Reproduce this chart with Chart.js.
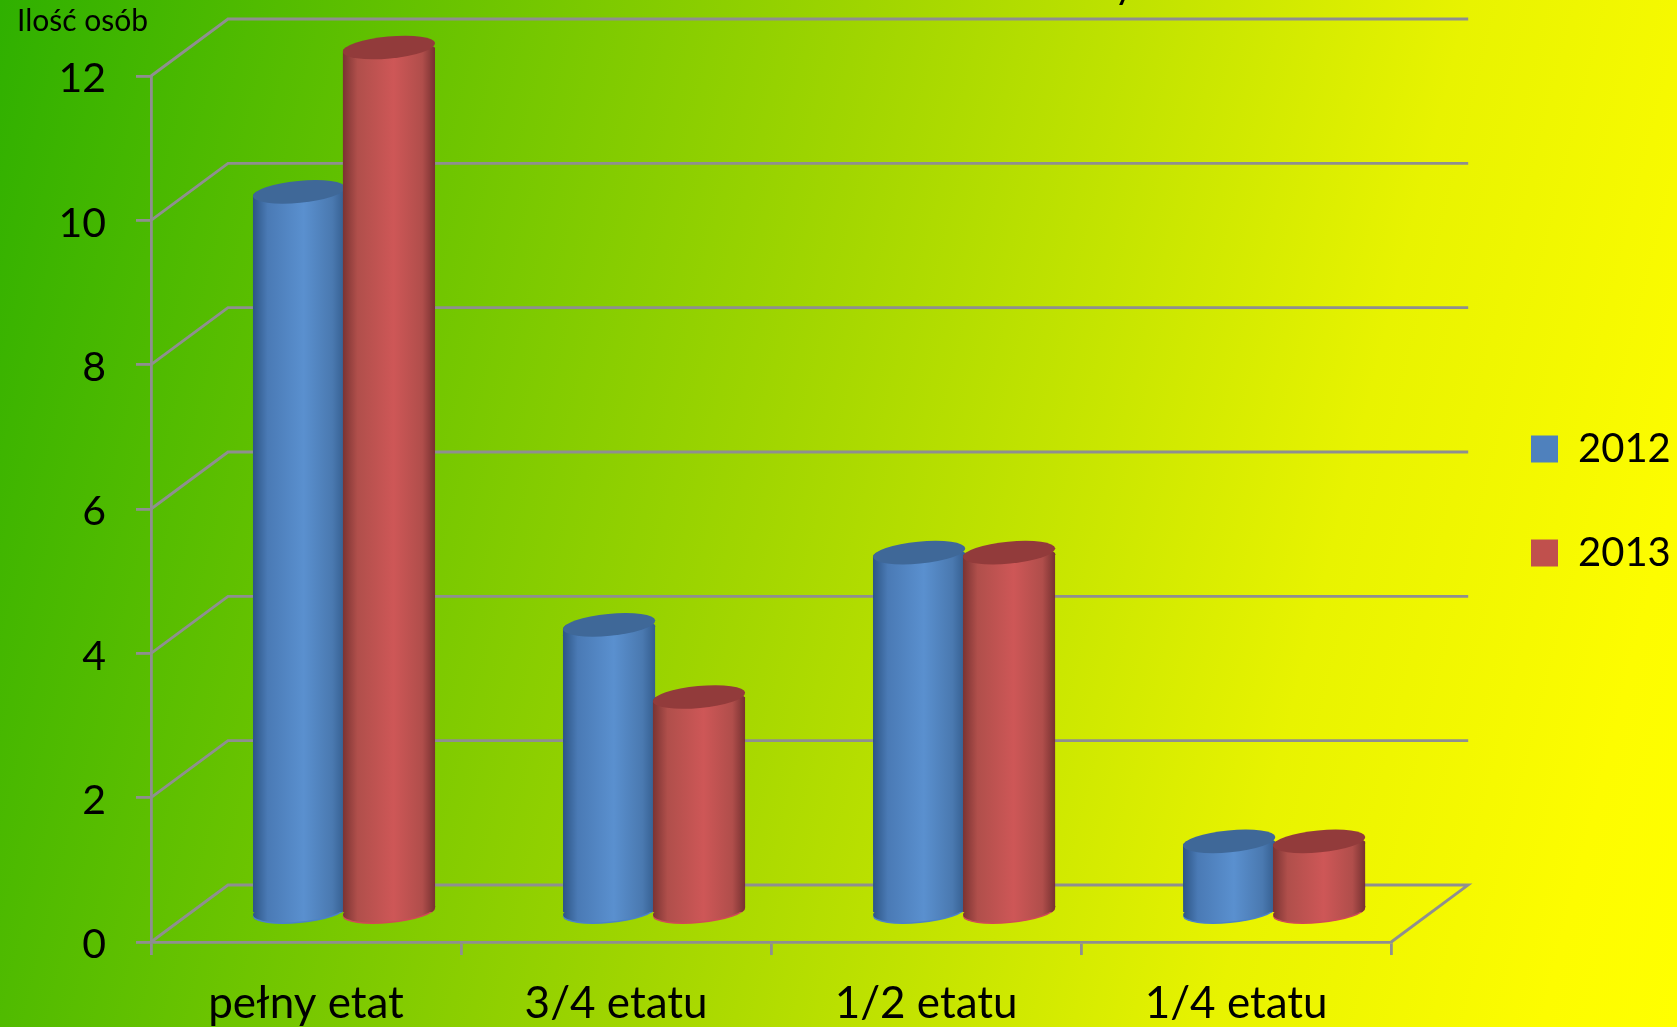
<!DOCTYPE html>
<html lang="pl">
<head>
<meta charset="utf-8">
<title>Ilość osób</title>
<style>
html, body { margin: 0; padding: 0; overflow: hidden; }
body { width: 1677px; height: 1027px; background: linear-gradient(104deg, #2fb000 0%, #a2d600 46%, #e8f300 76%, #fdfc00 93%, #ffff00 100%); }
canvas { display: block; }
</style>
<script src="https://cdn.jsdelivr.net/npm/chart.js@4/dist/chart.umd.min.js"></script>
</head>
<body>
<canvas id="graphs" width="1677" height="1027"></canvas>
<script>
const categories = ['pełny etat', '3/4 etatu', '1/2 etatu', '1/4 etatu'];
const years = ['2012', '2013'];
const values2012 = [10, 4, 5, 1];
const values2013 = [12, 3, 5, 1];
const yTicks = [0, 2, 4, 6, 8, 10, 12];

const legendColors = ['#4f81bd', '#c0504d'];
const bodyStops = [
    ['#2d5585', '#4a7ab5', '#5a90cf', '#4a79b0', '#345d8e'],
    ['#7a3332', '#b04f4b', '#ce5757', '#b04e4b', '#763130']
];
const topColors = ['#3f6898', '#923b3b'];
const bottomColors = ['#4a82c8', '#d04a55'];

const fontName = 'Lato, "Open Sans", sans-serif';
const gridColor = '#8f8f8f';
const depthX = 77, depthY = -57;   // back wall offset
const barShiftX = 38, barShiftY = -28.5;   // bars stand in the middle of the floor
const capRy = 11, capTilt = -0.095;

function barGradient(ctx, left, right, datasetIndex) {
    const g = ctx.createLinearGradient(left, 0, right, 0);
    const stops = bodyStops[datasetIndex];
    g.addColorStop(0, stops[0]);
    g.addColorStop(0.16, stops[1]);
    g.addColorStop(0.55, stops[2]);
    g.addColorStop(0.86, stops[3]);
    g.addColorStop(1, stops[4]);
    return g;
}

function cap(ctx, el, y, fill) {
    ctx.beginPath();
    ctx.ellipse(el.x, y, el.width / 2, capRy, capTilt, 0, Math.PI * 2);
    ctx.fillStyle = fill;
    ctx.fill();
}

// walls and floor lines behind the bars
const walls = {
    id: 'walls',
    beforeDatasetsDraw(chart) {
        const { ctx, chartArea, scales } = chart;
        ctx.save();
        ctx.strokeStyle = gridColor;
        ctx.lineWidth = 2.8;
        yTicks.forEach(t => {
            const y = scales.y.getPixelForValue(t);
            ctx.beginPath();
            ctx.moveTo(chartArea.left, y);
            ctx.lineTo(chartArea.left + depthX, y + depthY);
            ctx.lineTo(chartArea.right + depthX, y + depthY);
            if (t === 0) ctx.lineTo(chartArea.right, y);
            ctx.stroke();
        });
        // what is left of the cut off heading
        ctx.fillStyle = '#000';
        ctx.font = '40px ' + fontName;
        ctx.textBaseline = 'alphabetic';
        ctx.fillText('y', 1114, -2);
        ctx.restore();
    }
};

// turns the flat bars into cylinders, 2013 has to lie over 2012
const cylinders = {
    id: 'cylinders',
    beforeDatasetsDraw(chart) {
        const ctx = chart.ctx;
        ctx.save();
        ctx.translate(barShiftX, barShiftY);
        years.forEach((year, i) => {
            const meta = chart.getDatasetMeta(i);
            meta.data.forEach(el => {
                const left = el.x - el.width / 2;
                const body = barGradient(ctx, left, left + el.width, i);
                cap(ctx, el, el.base, bottomColors[i]);
                cap(ctx, el, el.base - 1.5, body);
                cap(ctx, el, el.y + 6, body);
            });
            ctx.save();
            ctx.beginPath();
            meta.data.forEach(el => {
                const r = el.width / 2;
                const dy = Math.sin(-capTilt) * r;
                ctx.moveTo(el.x - r, el.y + dy);
                ctx.ellipse(el.x, el.y, r, capRy, capTilt, Math.PI, Math.PI * 2);
                ctx.lineTo(el.x + r, el.base - dy);
                ctx.ellipse(el.x, el.base, r, capRy, capTilt, 0, Math.PI);
                ctx.closePath();
            });
            ctx.clip();
            meta.controller.draw();
            ctx.restore();
            meta.data.forEach(el => cap(ctx, el, el.y, topColors[i]));
        });
        ctx.restore();
        return false;
    }
};

// legend sits away from the plot, like in the picture
const legendPlace = {
    id: 'legendPlace',
    afterLayout(chart) {
        const legend = chart.legend;
        legend.left = 1531 - legend.options.labels.padding;
        legend.right = 1677;
        legend.top = 330;
        legend.bottom = 672;
    }
};

function barColor(c) {
    const x = c.chart.scales.x;
    if (!x) return legendColors[c.datasetIndex];
    const step = (x.right - x.left) / categories.length;
    const size = step * 0.58 / 2;
    const center = x.getPixelForValue(c.dataIndex) + (c.datasetIndex - 0.5) * size;
    const w = size * 1.03;
    if (!isFinite(center) || !isFinite(w)) return legendColors[c.datasetIndex];
    return barGradient(c.chart.ctx, center - w / 2, center + w / 2, c.datasetIndex);
}

const ctx = document.getElementById('graphs').getContext('2d');
const currentChart = new Chart(ctx, {
    type: 'bar',
    data: {
        labels: categories,
        datasets: [
            { label: years[0], data: values2012, backgroundColor: barColor },
            { label: years[1], data: values2013, backgroundColor: barColor }
        ]
    },
    options: {
        responsive: false,
        animation: false,
        events: [],
        categoryPercentage: 0.58,
        barPercentage: 1.03,
        borderWidth: 0,
        layout: { padding: { left: 17, top: 0, right: 72, bottom: 0 } },
        scales: {
            x: {
                afterFit(s) { s.height = 85; },
                border: { color: gridColor, width: 2.8 },
                grid: { color: gridColor, lineWidth: 2.8, drawOnChartArea: false, tickLength: 13 },
                ticks: { color: '#000', font: { family: fontName, size: 44 }, padding: 22, maxRotation: 0 }
            },
            y: {
                min: 0,
                max: 12,
                afterFit(s) { s.width = 134; },
                border: { color: gridColor, width: 2.8 },
                grid: { color: gridColor, lineWidth: 2.8, drawOnChartArea: false, tickLength: 15 },
                ticks: { stepSize: 2, color: '#000', font: { family: fontName, size: 41 }, padding: 30, labelOffset: 3 }
            }
        },
        plugins: {
            title: {
                display: true,
                text: 'Ilość osób',
                align: 'start',
                color: '#000',
                font: { family: fontName, size: 30, weight: 'normal', lineHeight: 1.2 },
                padding: { top: 3, bottom: 37 }
            },
            legend: {
                position: 'right',
                labels: {
                    color: '#000',
                    font: { family: fontName, size: 40 },
                    boxWidth: 27,
                    boxHeight: 27,
                    padding: 64,
                    generateLabels(chart) {
                        return years.map((year, i) => ({
                            text: year, fillStyle: legendColors[i], strokeStyle: legendColors[i],
                            lineWidth: 0, fontColor: '#000', datasetIndex: i
                        }));
                    }
                }
            },
            tooltip: { enabled: false }
        }
    },
    plugins: [walls, cylinders, legendPlace]
});
</script>
</body>
</html>
